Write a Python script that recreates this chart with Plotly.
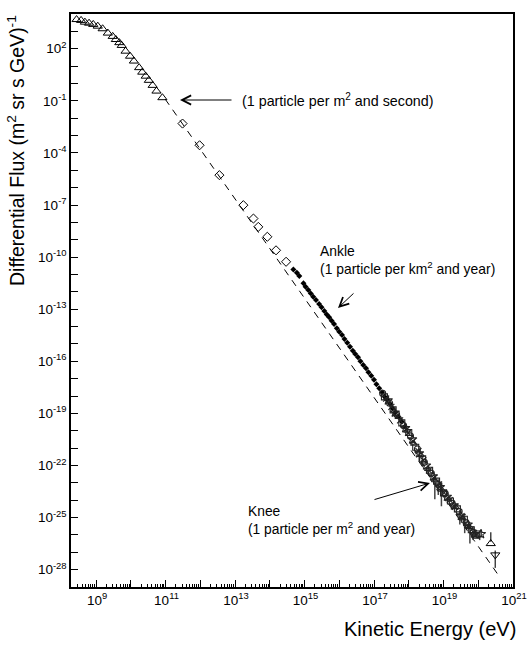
import plotly.graph_objects as go

# ---------------- data (log10 values) ----------------
# low-energy spectrum (open triangles)
tri_logE = [8.44, 8.57, 8.68, 8.80, 8.92, 9.05, 9.19, 9.34, 9.48, 9.57, 9.67, 9.74,
            9.85, 9.98, 10.09, 10.24, 10.33, 10.43, 10.52, 10.63, 10.74, 10.91]
tri_logF = [3.68, 3.63, 3.53, 3.47, 3.40, 3.30, 3.15, 2.90, 2.71, 2.53, 2.35, 2.19,
            1.86, 1.57, 1.29, 0.91, 0.65, 0.42, 0.18, -0.11, -0.44, -0.82]

# direct measurements (open diamonds)
dia_logE = [11.49, 11.98, 12.55, 13.24, 13.53, 13.67, 13.93, 14.18, 14.47]
dia_logF = [-2.31, -3.56, -5.28, -7.01, -7.78, -8.26, -8.83, -9.61, -10.27]

# air-shower data (small filled markers)
fil_logE = [14.68, 14.78, 14.85, 14.97, 15.03, 15.11, 15.18, 15.25, 15.33, 15.42,
            15.49, 15.57, 15.64, 15.71, 15.78, 15.85, 15.93, 16.00, 16.08, 16.15,
            16.23, 16.31, 16.39, 16.46, 16.54, 16.61, 16.69, 16.77, 16.84, 16.92,
            17.00, 17.07, 17.15, 17.23, 17.30, 17.38, 17.46, 17.53, 17.61, 17.70,
            17.80, 17.89]
fil_logF = [-10.71, -10.90, -11.09, -11.51, -11.71, -11.90, -12.09, -12.28, -12.47, -12.70,
            -12.89, -13.11, -13.30, -13.47, -13.66, -13.85, -14.10, -14.30, -14.49, -14.72,
            -14.93, -15.16, -15.39, -15.58, -15.77, -16.00, -16.21, -16.40, -16.63, -16.84,
            -17.07, -17.32, -17.55, -17.78, -18.03, -18.22, -18.45, -18.70, -18.95, -19.20,
            -19.48, -19.76]

# highest-energy experiments (overlapping open symbols)
circ_logE = [17.25, 17.45, 17.65, 17.85, 18.05, 18.25, 18.45, 18.65, 18.85, 19.05, 19.25, 19.45, 19.65, 19.85]
circ_logF = [-17.85, -18.42, -19.05, -19.70, -20.30, -21.05, -21.82, -22.45, -23.10, -23.62, -24.18, -24.65, -25.30, -25.85]

sq_logE = [17.30, 17.55, 17.80, 18.00, 18.20, 18.40, 18.60, 18.80, 19.00, 19.20, 19.40, 19.60, 19.80, 20.00]
sq_logF = [-18.05, -18.80, -19.55, -20.10, -20.95, -21.62, -22.28, -22.90, -23.58, -24.05, -24.50, -25.10, -25.70, -25.95]

tu_logE = [17.70, 17.95, 18.15, 18.35, 18.55, 18.75, 18.95, 19.15, 19.35, 19.55, 19.75, 19.95]
tu_logF = [-19.20, -20.00, -20.75, -21.40, -22.20, -22.85, -23.40, -23.95, -24.40, -25.05, -25.55, -26.10]

st_logE = [17.40, 17.60, 17.90, 18.10, 18.30, 18.50, 18.70, 18.90, 19.10, 19.30, 19.50, 19.70, 19.90, 20.08]
st_logF = [-18.25, -18.95, -19.85, -20.50, -21.30, -22.00, -22.62, -23.25, -23.80, -24.30, -24.90, -25.40, -25.95, -25.95]

xm_logE = [17.35, 17.50, 17.75, 17.98, 18.12, 18.28, 18.42, 18.58, 18.72, 18.88, 19.02, 19.18, 19.33, 19.52, 19.68, 19.88]
xm_logF = [-18.15, -18.62, -19.40, -20.12, -20.60, -21.17, -21.70, -22.28, -22.72, -23.22, -23.58, -24.00, -24.38, -24.92, -25.42, -25.88]

# error bars (logE, low logF, high logF)
err_logE = [18.30, 18.40, 18.75, 18.85, 18.94, 19.47, 19.61, 19.76, 19.85, 20.04, 20.36, 20.49]
err_lo = [-21.75, -22.10, -23.95, -23.70, -24.35, -25.40, -25.90, -26.50, -26.30, -26.30, -26.40, -27.90]
err_hi = [-21.15, -21.45, -22.55, -22.80, -22.90, -24.55, -24.90, -25.45, -25.50, -25.75, -25.85, -26.90]

# two highest points
up_logE = [20.36]
up_logF = [-26.50]
dn_logE = [20.49]
dn_logF = [-27.15]

# E^-2.7-like reference power law (dashed), end points
line_logE = [10.99, 20.57]
line_logF = [-0.90, -28.29]

# axis ticks
y_exp = list(range(-29, 5))
x_exp = list(range(9, 22))

FONT = "Liberation Sans, Arial, Helvetica, sans-serif"


def pw(v):
    return [10.0 ** a for a in v]


fig = go.Figure()

fig.add_trace(go.Scatter(x=pw(line_logE), y=pw(line_logF), mode="lines",
                         line=dict(color="black", width=1, dash="7px,6px"), hoverinfo="skip"))

ex, ey = [], []
for e, lo, hi in zip(err_logE, err_lo, err_hi):
    ex += [10.0 ** e, 10.0 ** e, None]
    ey += [10.0 ** lo, 10.0 ** hi, None]
fig.add_trace(go.Scatter(x=ex, y=ey, mode="lines", line=dict(color="#444444", width=1.5),
                         hoverinfo="skip"))

mk = dict(color="black", line=dict(color="black", width=1))
fig.add_trace(go.Scatter(x=pw(tri_logE), y=pw(tri_logF), mode="markers",
                         marker=dict(symbol="triangle-up-open", size=8, **mk)))
fig.add_trace(go.Scatter(x=pw(dia_logE), y=pw(dia_logF), mode="markers",
                         marker=dict(symbol="diamond-open", size=7, **mk)))
fig.add_trace(go.Scatter(x=pw(fil_logE), y=pw(fil_logF), mode="markers",
                         marker=dict(symbol="diamond", size=4.6, color="black",
                                     line=dict(width=0))))
dark = dict(color="#222222", line=dict(color="#222222", width=1.1))
fig.add_trace(go.Scatter(x=pw(circ_logE), y=pw(circ_logF), mode="markers",
                         marker=dict(symbol="circle-open", size=6, **dark)))
fig.add_trace(go.Scatter(x=pw(sq_logE), y=pw(sq_logF), mode="markers",
                         marker=dict(symbol="square-open", size=6, **dark)))
fig.add_trace(go.Scatter(x=pw(tu_logE), y=pw(tu_logF), mode="markers",
                         marker=dict(symbol="triangle-up-open", size=6, **dark)))
fig.add_trace(go.Scatter(x=pw(st_logE), y=pw(st_logF), mode="markers",
                         marker=dict(symbol="star-open", size=7, **dark)))
fig.add_trace(go.Scatter(x=pw(xm_logE), y=pw(xm_logF), mode="markers",
                         marker=dict(symbol="x-thin-open", size=6, **dark)))
fig.add_trace(go.Scatter(x=pw(up_logE), y=pw(up_logF), mode="markers",
                         marker=dict(symbol="triangle-up-open", size=8, **mk)))
fig.add_trace(go.Scatter(x=pw(dn_logE), y=pw(dn_logF), mode="markers",
                         marker=dict(symbol="triangle-down-open", size=8, **mk)))

W, H = 529, 645
L, R, T, B = 71, 16, 14, 58
PW, PH = W - L - R, H - T - B


def px(x):
    return (x - L) / PW


def py(y):
    return (H - B - y) / PH


fig.update_layout(
    width=W, height=H, margin=dict(l=L, r=R, t=T, b=B, autoexpand=False),
    paper_bgcolor="white", plot_bgcolor="white", showlegend=False,
    font=dict(family=FONT, color="black", size=13.5),
    xaxis=dict(type="log", range=[8.28, 21.0], showgrid=False, zeroline=False,
               automargin=False,
               showline=True, linecolor="black", linewidth=1.5, mirror=True,
               ticks="inside", ticklen=7, tickwidth=1, tickcolor="black",
               tickmode="array", tickvals=[10.0 ** k for k in x_exp],
               ticktext=[f"10<sup>{k}</sup>" if k % 2 == 1 else "" for k in x_exp],
               tickfont=dict(size=13.5), ticklabelshift=1,
               minor=dict(ticks="inside", ticklen=3.5, tickwidth=1, tickcolor="black",
                          tickmode="array",
                          tickvals=[m * 10.0 ** k for k in range(8, 21) for m in range(2, 10)])),
    yaxis=dict(type="log", range=[-29, 4], showgrid=False, zeroline=False,
               automargin=False,
               showline=True, linecolor="black", linewidth=1.5, mirror=True,
               ticks="inside", ticklen=7, tickwidth=1, tickcolor="black",
               tickmode="array", tickvals=[10.0 ** k for k in y_exp],
               ticktext=[f"10<sup>{k}</sup>" if (k - 2) % 3 == 0 else "" for k in y_exp],
               tickfont=dict(size=13.5)),
)

ann = []
# axis titles
ann.append(dict(text="Differential Flux (m<sup>2</sup> sr s GeV)<sup>-1</sup>", textangle=-90,
                xref="paper", yref="paper", x=px(16), y=py(151), xanchor="center", yanchor="middle",
                showarrow=False, font=dict(size=19.5, family=FONT)))
ann.append(dict(text="Kinetic Energy (eV)", xref="paper", yref="paper", x=px(518), y=py(629),
                xanchor="right", yanchor="middle", showarrow=False, font=dict(size=20, family=FONT)))
# labels
ann.append(dict(text="(1 particle per m<sup>2</sup> and second)", xref="paper", yref="paper",
                x=px(240), y=py(100), xanchor="left", yanchor="middle", showarrow=False,
                font=dict(size=14.3, family=FONT)))
ann.append(dict(text="Ankle<br>(1 particle per km<sup>2</sup> and year)", xref="paper", yref="paper",
                x=px(318), y=py(260), xanchor="left", yanchor="middle", align="left",
                showarrow=False, font=dict(size=13.9, family=FONT)))
ann.append(dict(text="Knee<br>(1 particle per m<sup>2</sup> and year)", xref="paper", yref="paper",
                x=px(246), y=py(520), xanchor="left", yanchor="middle", align="left",
                showarrow=False, font=dict(size=13.8, family=FONT)))
# arrows (head position, tail offset in pixels)
for hx, hy, tx, ty in [(180, 100, 233, 100), (338, 308, 355, 292), (430, 483, 373, 500)]:
    ann.append(dict(text="", xref="paper", yref="paper", x=px(hx), y=py(hy),
                    ax=tx - hx, ay=ty - hy, showarrow=True, arrowhead=5, arrowsize=1.8,
                    arrowwidth=1, arrowcolor="black", standoff=0, startstandoff=0))
fig.update_layout(annotations=ann)

fig.write_html("out.html")
